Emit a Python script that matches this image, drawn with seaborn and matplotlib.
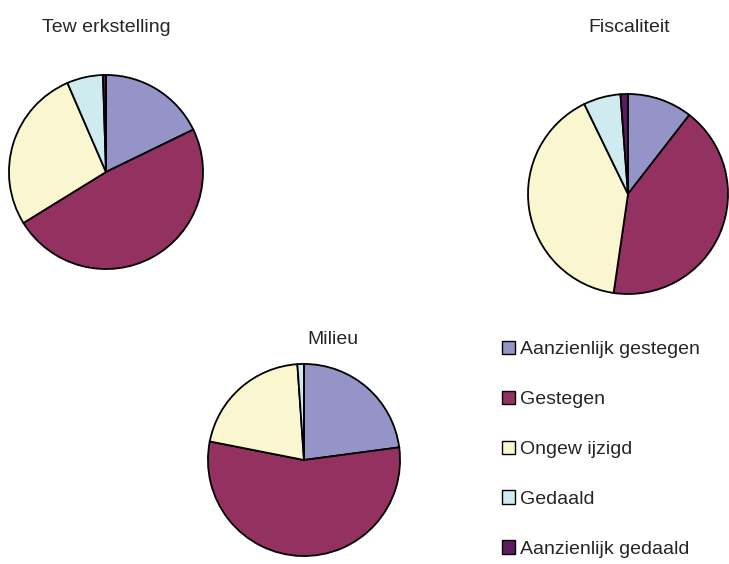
import matplotlib
matplotlib.use("Agg")
import matplotlib.pyplot as plt
import matplotlib.patches as mpatches
import seaborn as sns

# --- Data ---
categories = ["Aanzienlijk gestegen", "Gestegen", "Ongew ijzigd", "Gedaald", "Aanzienlijk gedaald"]
tewerkstelling = [17.8, 48.4, 27.3, 6.0, 0.5]
fiscaliteit = [10.5, 41.8, 40.5, 6.0, 1.2]
milieu = [22.9, 55.2, 20.8, 1.1, 0.0]

colors = sns.color_palette(["#9494C8", "#933160", "#FAF7D0", "#D0EBF0", "#5E1A60"])

sns.set_theme(style="white")
plt.rcParams["font.family"] = ["Liberation Sans", "DejaVu Sans"]

W, H = 729, 564
fig = plt.figure(figsize=(W / 100, H / 100), dpi=100)
fig.patch.set_facecolor("white")


def pie_axes(cx, cy, r):
    # pixel centre/radius -> figure-fraction axes
    return fig.add_axes([(cx - r) / W, (H - cy - r) / H, 2 * r / W, 2 * r / H])


def draw_pie(ax, values):
    ax.pie(values, colors=colors, startangle=90, counterclock=False,
           wedgeprops=dict(edgecolor="black", linewidth=1.3))
    ax.set_xlim(-1.01, 1.01)
    ax.set_ylim(-1.01, 1.01)
    ax.set_aspect("equal")
    ax.axis("off")


draw_pie(pie_axes(106, 172, 98), tewerkstelling)
draw_pie(pie_axes(628, 194, 101), fiscaliteit)
draw_pie(pie_axes(304, 460, 97), milieu)

fig.text(106 / W, 1 - 27 / H, "Tew erkstelling", ha="center", va="center", fontsize=14)
fig.text(629 / W, 1 - 27 / H, "Fiscaliteit", ha="center", va="center", fontsize=14)
fig.text(333 / W, 1 - 339 / H, "Milieu", ha="center", va="center", fontsize=14)

handles = [mpatches.Patch(facecolor=c, edgecolor="black", linewidth=1.0, label=l)
           for c, l in zip(colors, categories)]
fig.legend(handles=handles, loc="upper left", bbox_to_anchor=(494 / W, 1 - 333 / H),
           frameon=False, fontsize=14, handlelength=0.7, handleheight=0.7,
           handletextpad=0.25, labelspacing=1.66, borderaxespad=0)

fig.savefig("out.png", dpi=100)
